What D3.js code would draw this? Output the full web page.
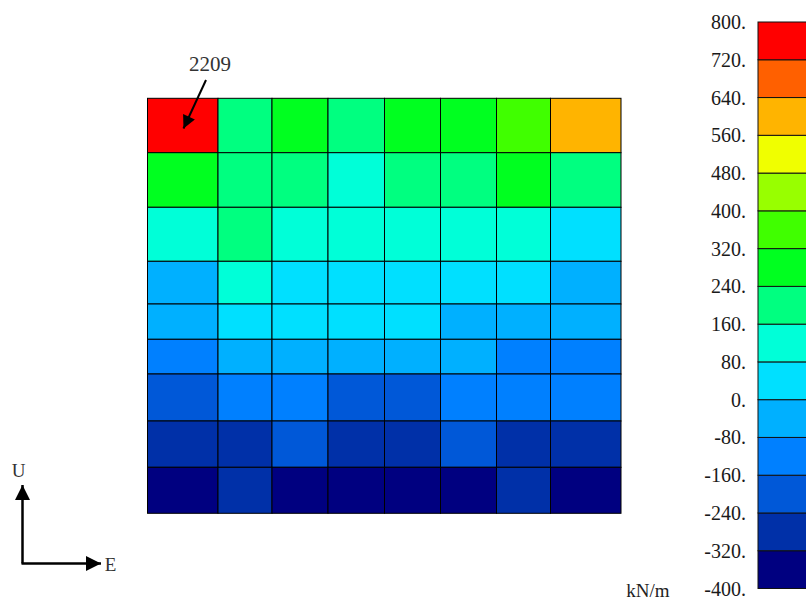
<!DOCTYPE html>
<html><head><meta charset="utf-8">
<script src="https://cdn.jsdelivr.net/npm/d3@7"></script>
<style>body{margin:0;background:#fff;}svg{display:block;}</style>
</head><body>
<svg id="c" width="806" height="601"></svg>
<script>
// Mesh node coordinates (model units)
const xNodes = [0, 70.5, 124.5, 180.5, 237, 293, 349, 403, 473.5];
const yNodes = [0, 54.4, 109, 163, 205.7, 241, 275.7, 322.7, 369, 415];
// Element values (kN/m), rows top to bottom
const values = [
  [2209, 205, 290, 210, 300, 295, 350, 600],
  [285, 200, 195, 120, 200, 205, 290, 200],
  [120, 195, 125, 120, 115, 120, 110, 40],
  [-30, 125, 40, 45, 40, 45, 40, -20],
  [-25, 40, 45, 40, 40, -20, -25, -30],
  [-110, -30, -25, -20, -25, -30, -100, -110],
  [-190, -120, -110, -200, -200, -120, -110, -105],
  [-280, -285, -190, -280, -280, -185, -280, -285],
  [-360, -270, -370, -365, -370, -375, -265, -360]
];
const levels = [-400,-320,-240,-160,-80,0,80,160,240,320,400,480,560,640,720,800];
const levelLabels = ["-400.","-320.","-240.","-160.","-80.","0.","80.","160.","240.","320.","400.","480.","560.","640.","720.","800."];
const bandColors = ["#000080","#0030A8","#0058D8","#0080FF","#00B0FF","#00E0FF","#00FFD8","#00FF80","#00FF20","#40FF00","#98FF00","#F0FF00","#FFB400","#FF6000","#FF0000"];
const peakLabel = "2209";
const unitLabel = "kN/m";

const svg = d3.select("#c");
const font = "'Liberation Serif','DejaVu Serif',serif";

const x = d3.scaleLinear().domain([0, 473.5]).range([147.5, 621]);
const y = d3.scaleLinear().domain([0, 415]).range([98.3, 513.3]);
const color = d3.scaleThreshold().domain(levels.slice(1, -1)).range(bandColors);

const cells = [];
values.forEach((row, i) => row.forEach((v, j) => cells.push({i, j, v})));
svg.append("g").selectAll("rect").data(cells).join("rect")
  .attr("x", d => x(xNodes[d.j]))
  .attr("y", d => y(yNodes[d.i]))
  .attr("width", d => x(xNodes[d.j+1]) - x(xNodes[d.j]))
  .attr("height", d => y(yNodes[d.i+1]) - y(yNodes[d.i]))
  .attr("fill", d => color(d.v))
  .attr("stroke", "#000").attr("stroke-width", 1);

// Colorbar
const cb = d3.scaleLinear().domain([-400, 800]).range([588.5, 22]);
const bands = d3.range(bandColors.length).map(k => ({lo: levels[k], hi: levels[k+1], c: bandColors[k]}));
svg.append("g").selectAll("rect").data(bands).join("rect")
  .attr("x", 758).attr("width", 70)
  .attr("y", d => cb(d.hi)).attr("height", d => cb(d.lo) - cb(d.hi))
  .attr("fill", d => d.c).attr("stroke", "#111").attr("stroke-width", 1);
svg.append("g").selectAll("text").data(levels).join("text")
  .attr("x", 746).attr("y", d => cb(d)).attr("dy", "0.35em")
  .attr("text-anchor", "end")
  .style("font-family", font).style("font-size", "20px").attr("fill", "#1a1a1a")
  .text((d, k) => levelLabels[k]);

svg.append("text").attr("x", 648).attr("y", 597).attr("text-anchor", "middle")
  .style("font-family", font).style("font-size", "19px").attr("fill", "#222").text(unitLabel);

// Arrow markers
const defs = svg.append("defs");
defs.append("marker").attr("id", "ah").attr("viewBox", "0 0 10 10")
  .attr("refX", 10).attr("refY", 5).attr("markerUnits", "userSpaceOnUse")
  .attr("markerWidth", 16).attr("markerHeight", 15).attr("orient", "auto")
  .append("path").attr("d", "M0,0L10,5L0,10Z").attr("fill", "#000");
defs.append("marker").attr("id", "ah2").attr("viewBox", "0 0 10 10")
  .attr("refX", 10).attr("refY", 5).attr("markerUnits", "userSpaceOnUse")
  .attr("markerWidth", 16).attr("markerHeight", 13).attr("orient", "auto")
  .append("path").attr("d", "M0,0L10,5L0,10Z").attr("fill", "#000");

// Peak annotation
svg.append("text").attr("x", 210).attr("y", 71).attr("text-anchor", "middle")
  .style("font-family", font).style("font-size", "21px").attr("fill", "#333").text(peakLabel);
svg.append("line").attr("x1", 206).attr("y1", 80).attr("x2", 183.5).attr("y2", 128.5)
  .attr("stroke", "#000").attr("stroke-width", 2).attr("marker-end", "url(#ah2)");

// Axis triad
svg.append("line").attr("x1", 22.5).attr("y1", 563.5).attr("x2", 22.5).attr("y2", 485)
  .attr("stroke", "#000").attr("stroke-width", 2.5).attr("marker-end", "url(#ah)");
svg.append("line").attr("x1", 21.5).attr("y1", 563.5).attr("x2", 101).attr("y2", 563.5)
  .attr("stroke", "#000").attr("stroke-width", 2.5).attr("marker-end", "url(#ah)");
svg.append("text").attr("x", 18.5).attr("y", 477).attr("text-anchor", "middle")
  .style("font-family", font).style("font-size", "19px").attr("fill", "#333").text("U");
svg.append("text").attr("x", 110.5).attr("y", 571).attr("text-anchor", "middle")
  .style("font-family", font).style("font-size", "19px").attr("fill", "#333").text("E");
</script>
</body></html>
